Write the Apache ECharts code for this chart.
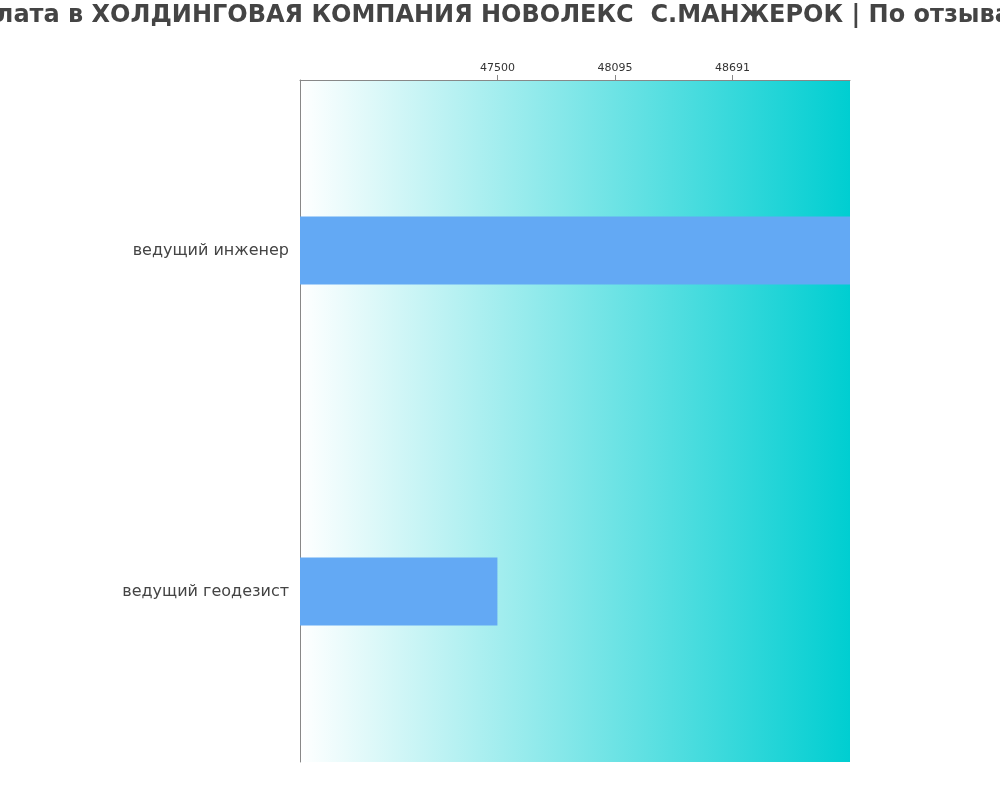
<!DOCTYPE html>
<html>
<head>
<meta charset="utf-8">
<script src="https://cdn.jsdelivr.net/npm/echarts@6/dist/echarts.min.js"></script>
<style>html,body{margin:0;padding:0;background:#fff}#c{width:1000px;height:800px}</style>
</head>
<body>
<div id="c"></div>
<script>
const titleText = 'Заработная плата в ХОЛДИНГОВАЯ КОМПАНИЯ НОВОЛЕКС  С.МАНЖЕРОК | По отзывам сотрудников';
const categories = ['ведущий геодезист', 'ведущий инженер'];
const salaries = [47500, 49286];
const tickValues = [47500, 48095, 48691];
const axisMin = 46500;
const axisMax = 49286;

const titleFont = 'bold 24px "DejaVu Sans"';
const mctx = document.createElement('canvas').getContext('2d');
mctx.font = titleFont;
const titleW = mctx.measureText(titleText).width;
const titleLeft = (1000 - titleW) / 2 + 13;

const chart = echarts.init(document.getElementById('c'), null, {renderer: 'canvas'});
chart.setOption({
  animation: false,
  title: {
    text: titleText,
    left: titleLeft,
    top: 4,
    padding: 0,
    textStyle: {fontFamily: 'DejaVu Sans', fontWeight: 'bold', fontSize: 24, color: '#444'}
  },
  grid: {
    left: 300, right: 150, top: 80, bottom: 38,
    show: true,
    borderWidth: 0,
    backgroundColor: new echarts.graphic.LinearGradient(0, 0, 1, 0, [
      {offset: 0, color: '#ffffff'},
      {offset: 1, color: '#00ced1'}
    ])
  },
  xAxis: {
    type: 'value',
    position: 'top',
    min: axisMin,
    max: axisMax,
    axisLine: {show: true, lineStyle: {color: '#888', width: 1}},
    axisTick: {show: true, customValues: tickValues, length: 5, lineStyle: {color: '#888'}},
    axisLabel: {customValues: tickValues, fontSize: 11, color: '#333', fontFamily: 'DejaVu Sans', margin: 6,
      formatter: v => String(v)},
    splitLine: {show: false}
  },
  yAxis: {
    type: 'category',
    data: categories,
    axisLine: {show: true, lineStyle: {color: '#888', width: 1}},
    axisTick: {show: false},
    axisLabel: {fontSize: 16, color: '#444', fontFamily: 'DejaVu Sans', margin: 11},
    splitLine: {show: false}
  },
  series: [{
    type: 'bar',
    data: salaries,
    barWidth: '20%',
    itemStyle: {color: '#63a9f4'}
  }]
});
</script>
</body>
</html>
